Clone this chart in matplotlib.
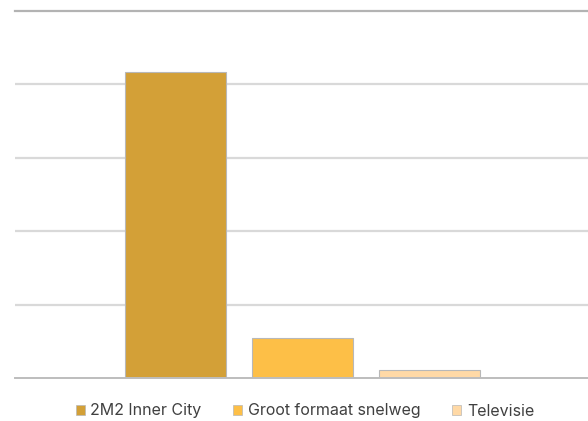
import matplotlib
matplotlib.use('Agg')
import matplotlib.pyplot as plt
from matplotlib.patches import Patch

series = ['2M2 Inner City', 'Groot formaat snelweg', 'Televisie']
values = [4.17, 0.545, 0.11]
colors = ['#D3A037', '#FDBF47', '#FFD9A6']
grid_ticks = [1, 2, 3, 4, 5]

plt.rcParams['font.family'] = ['Inter', 'DejaVu Sans']

fig = plt.figure(figsize=(5.88, 4.21), dpi=100)
ax = fig.add_axes([15/588, 43/421, 575/588, 367/421])

x = list(range(len(series)))
ax.bar(x, values, width=0.795, color=colors, edgecolor='#b8b8b8', linewidth=0.8, zorder=3)

ax.set_xlim(-1.264, 3.264)
ax.set_ylim(0, 5)
for t in grid_ticks[:-1]:
    ax.axhline(t, color='#d9d9d9', linewidth=1.6, zorder=1)
ax.axhline(5, color='#b3b3b3', linewidth=1.6, zorder=1, clip_on=False)
ax.axhline(0, color='#bdbdbd', linewidth=1.4, zorder=4, clip_on=False)

for s in ax.spines.values():
    s.set_visible(False)
ax.set_xticks([])
ax.set_yticks([])

handles = [Patch(facecolor=c, edgecolor='#b8b8b8', linewidth=0.5) for c in colors]
fig.legend(handles, series, loc='center', bbox_to_anchor=(305/588, 1 - 411/421), ncol=3,
           frameon=False, fontsize=11.5, handlelength=0.55, handleheight=0.55,
           handletextpad=0.35, columnspacing=2.0, labelcolor='#404040')

fig.savefig('out.png', dpi=100)
